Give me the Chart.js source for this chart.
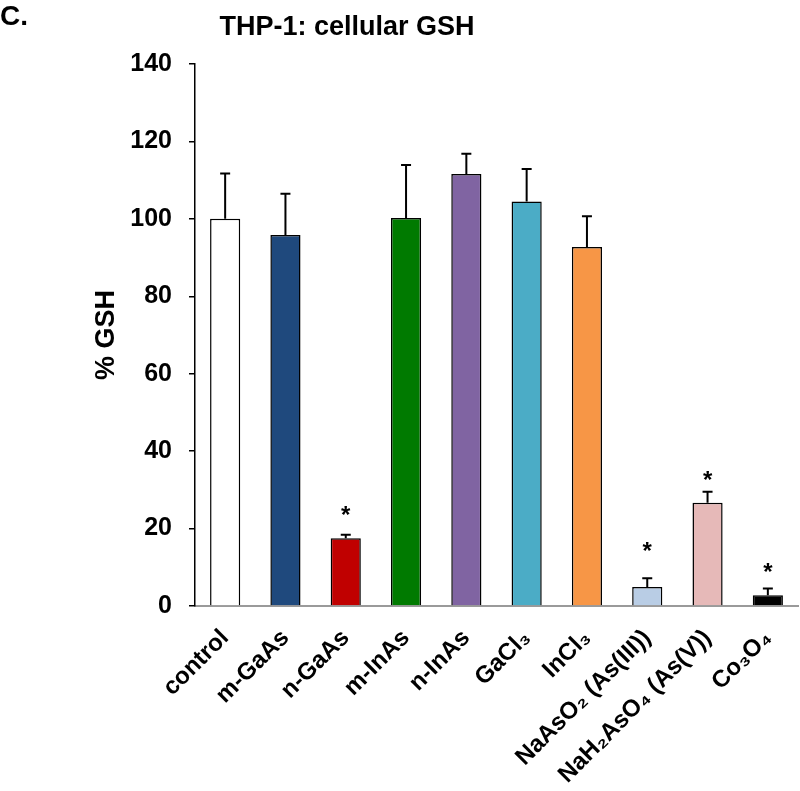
<!DOCTYPE html>
<html>
<head>
<meta charset="utf-8">
<script src="https://cdn.jsdelivr.net/npm/chart.js@4/dist/chart.umd.min.js"></script>
<style>
html,body{margin:0;padding:0;background:#fff;}
#wrap{width:800px;height:791px;position:relative;}
</style>
</head>
<body>
<div id="wrap"><canvas id="c" width="800" height="791"></canvas></div>
<script>
// ---- data ----
const categories = ['control', 'm-GaAs', 'n-GaAs', 'm-InAs', 'n-InAs', 'GaCl₃', 'InCl₃', 'NaAsO₂ (As(III))', 'NaH₂AsO₄ (As(V))', 'Co₃O₄'];
const gshMean = [100, 95.8, 17.5, 100.2, 111.6, 104.5, 92.7, 4.9, 26.7, 2.8];
const gshErr = [11.7, 10.7, 0.9, 13.7, 5.2, 8.4, 8.0, 2.3, 2.8, 1.7];
const starLevel = [null, null, 25.1, null, null, null, null, 15.6, 34.1, 10.2];
const yTicks = [0, 20, 40, 60, 80, 100, 120, 140];
const barColors = ['#FFFFFF', '#1F497D', '#C00000', '#007A00', '#8064A2', '#4BACC6', '#F79646', '#B9CDE5', '#E6B9B8', '#000000'];

const FONT = '"Liberation Sans", Arial, sans-serif';

const errorBarPlugin = {
  id: 'errorBars',
  afterDatasetsDraw(chart) {
    const ctx = chart.ctx;
    const y = chart.scales.y;
    const meta = chart.getDatasetMeta(0);
    ctx.save();
    ctx.strokeStyle = '#000';
    ctx.lineWidth = 2;
    meta.data.forEach((bar, i) => {
      const base = y.getPixelForValue(gshMean[i]);
      const top = y.getPixelForValue(gshMean[i] + gshErr[i]);
      ctx.beginPath();
      ctx.moveTo(bar.x, base);
      ctx.lineTo(bar.x, top);
      ctx.moveTo(bar.x - 5, top);
      ctx.lineTo(bar.x + 5, top);
      ctx.stroke();
      if (starLevel[i] !== null) {
        ctx.fillStyle = '#000';
        ctx.font = 'bold 24px ' + FONT;
        ctx.textAlign = 'center';
        ctx.textBaseline = 'alphabetic';
        ctx.fillText('*', bar.x, y.getPixelForValue(starLevel[i]) + 0.57 * 24);
      }
    });
    ctx.restore();
  }
};

const headerPlugin = {
  id: 'header',
  afterDraw(chart) {
    const ctx = chart.ctx;
    ctx.save();
    ctx.fillStyle = '#000';
    ctx.textBaseline = 'alphabetic';
    ctx.textAlign = 'left';
    ctx.font = 'bold 28px ' + FONT;
    ctx.fillText('C.', 0, 25);
    ctx.textAlign = 'center';
    ctx.font = 'bold 27px ' + FONT;
    ctx.fillText('THP-1: cellular GSH', 347, 35);
    ctx.restore();
  }
};

new Chart(document.getElementById('c'), {
  type: 'bar',
  data: {
    labels: categories,
    datasets: [{
      data: gshMean,
      backgroundColor: barColors,
      borderColor: '#000',
      borderWidth: 1.5,
      barPercentage: 0.5,
      categoryPercentage: 1.0
    }]
  },
  options: {
    responsive: false,
    animation: false,
    devicePixelRatio: 1,
    layout: { padding: { top: 64, left: 0, right: 2, bottom: 0 } },
    plugins: { legend: { display: false }, tooltip: { enabled: false }, title: { display: false } },
    scales: {
      x: {
        offset: true,
        grid: { display: false },
        border: { display: true, color: '#9a9a9a', width: 2 },
        ticks: {
          autoSkip: false,
          minRotation: 45,
          maxRotation: 45,
          padding: 10,
          color: '#000',
          font: { family: FONT, size: 24, weight: 'bold' }
        },
        afterFit(scale) { scale.height = 185; }
      },
      y: {
        min: 0,
        max: 140,
        afterBuildTicks(scale) { scale.ticks = yTicks.map(v => ({ value: v })); },
        grid: { display: true, drawOnChartArea: false, drawTicks: true, tickLength: 6, color: '#000', lineWidth: 1.5 },
        border: { display: true, color: '#000', width: 1.5 },
        ticks: {
          padding: 17,
          color: '#000',
          font: { family: FONT, size: 25, weight: 'bold' }
        },
        title: {
          display: true,
          text: '% GSH',
          color: '#000',
          padding: { top: 90, bottom: 0 },
          font: { family: FONT, size: 27, weight: 'bold' }
        },
        afterFit(scale) { scale.width = 195; }
      }
    }
  },
  plugins: [errorBarPlugin, headerPlugin]
});
</script>
</body>
</html>
